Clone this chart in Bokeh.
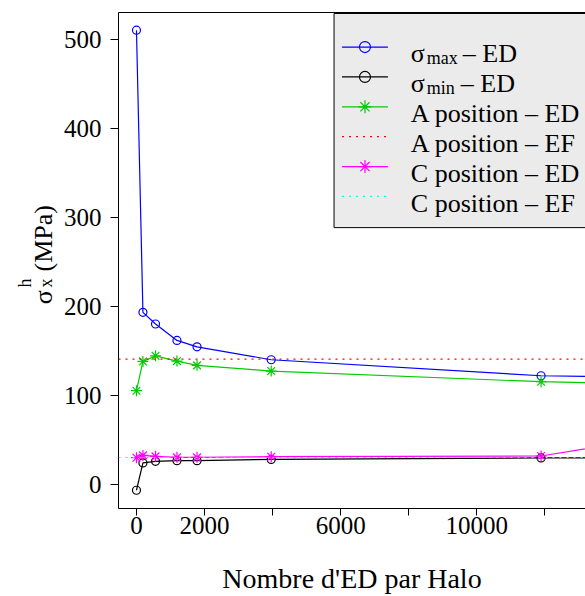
import math
from bokeh.plotting import figure
from bokeh.layouts import row
from bokeh.models import Range1d, LinearAxis, FixedTicker, Label, Span
from bokeh.core.properties import value
from bokeh.embed import file_html
from bokeh.resources import INLINE

# ---------------- data ----------------
n_ed = [0, 190, 560, 1190, 1780, 3960, 11890, 13500]
sigma_max_ed = [510.7, 193.6, 180.5, 162.0, 154.8, 140.3, 122.3, 121.3]
sigma_min_ed = [-6.4, 24.3, 26.1, 26.9, 26.9, 28.3, 29.9, 29.9]
a_pos_ed = [105.5, 138.4, 144.7, 138.8, 134.0, 127.6, 115.6, 114.2]
c_pos_ed = [30.2, 32.8, 31.7, 30.6, 30.6, 31.3, 32.1, 42.2]
a_pos_ef = 141.0
c_pos_ef = 30.4

x_ticks = [0, 2000, 4000, 6000, 8000, 10000, 12000]
x_tick_labels = ["0", "2000", "", "6000", "", "10000", ""]
y_ticks = [0, 100, 200, 300, 400, 500]
y_tick_labels = ["0", "100", "200", "300", "400", "500"]
x_title = "Nombre d'ED par Halo"
y_title_parts = ["σ", "h", "x", "(MPa)"]
legend_names = ["– ED", "– ED", "A position – ED", "A position – EF", "C position – ED", "C position – EF"]

# ---------------- styles ----------------
FONT = "Liberation Serif"
BLUE, BLACK, GREEN, RED, MAGENTA, CYAN = "#0000ff", "#000000", "#00cd00", "#ff0000", "#ff00ff", "#00ffff"
DOT = "2 5"
LW = 1.2

# narrow panel holding the composed y-axis title; its frame is aligned with the
# main frame (page y 12..510), so use page pixel coordinates
fy = figure(width=60, height=596, output_backend="svg", toolbar_location=None, title=None,
            x_range=Range1d(0, 60), y_range=Range1d(510, 12),
            x_axis_type=None, y_axis_type=None, min_border=0)
fy.grid.visible = False
fy.outline_line_color = None

def ytxt(text, x, y, size):
    fy.text(x=[x], y=[y], text=[text], angle=math.pi / 2, text_font=value(FONT),
            text_font_size=value(size), text_color="black", text_baseline="alphabetic", text_align="left")

ytxt(y_title_parts[0], 43, 305, "26px")
ytxt(y_title_parts[1], 24, 288, "18px")
ytxt(y_title_parts[2], 45, 288, "18px")
ytxt(y_title_parts[3], 43, 272, "26px")

p = figure(width=525, height=596, output_backend="svg", toolbar_location=None,
           x_range=Range1d(-528, 13196), y_range=Range1d(-26.9, 530.6),
           min_border_left=57, min_border_right=0, min_border_top=12, min_border_bottom=86)
p.grid.visible = False
p.outline_line_color = None
p.background_fill_color = "white"

# pixel-space helper ranges (page coordinates) for the legend
p.extra_x_ranges = {"px": Range1d(117, 585)}
p.extra_y_ranges = {"py": Range1d(510, 12)}

# axes
xa = p.xaxis[0]
xa.ticker = FixedTicker(ticks=x_ticks)
xa.major_label_overrides = {t: l for t, l in zip(x_ticks, x_tick_labels)}
ya = p.yaxis[0]
ya.ticker = FixedTicker(ticks=y_ticks)
ya.major_label_overrides = {t: l for t, l in zip(y_ticks, y_tick_labels)}
for ax in (xa, ya):
    ax.axis_line_color = "black"
    ax.axis_line_width = 1
    ax.major_tick_line_color = "black"
    ax.major_tick_out = 8
    ax.major_tick_in = 0
    ax.minor_tick_line_color = None
    ax.major_label_text_font = FONT
    ax.major_label_text_font_size = "25px"
    ax.major_label_text_color = "black"
xa.major_tick_out = 7
xa.major_label_standoff = 1
ya.major_label_standoff = 9
xa.axis_label = x_title
xa.axis_label_text_font = FONT
xa.axis_label_text_font_size = "28px"
xa.axis_label_text_font_style = "normal"
xa.axis_label_text_color = "black"
xa.axis_label_standoff = 26

top = LinearAxis(ticker=FixedTicker(ticks=[]), axis_line_color="black", major_tick_out=0,
                 major_tick_in=0, minor_tick_line_color=None, major_label_text_font_size="0px",
                 major_label_standoff=0)
p.add_layout(top, "above")

# reference lines (EF)
p.add_layout(Span(location=a_pos_ef, dimension="width", line_color=RED, line_dash=DOT, line_width=LW))
p.add_layout(Span(location=c_pos_ef, dimension="width", line_color=CYAN, line_dash=DOT, line_width=LW))

# data series
p.line(n_ed, sigma_max_ed, line_color=BLUE, line_width=LW)
p.scatter(n_ed, sigma_max_ed, marker="circle", size=8, fill_color=None, line_color=BLUE, line_width=LW)
p.line(n_ed, sigma_min_ed, line_color=BLACK, line_width=LW)
p.scatter(n_ed, sigma_min_ed, marker="circle", size=8, fill_color=None, line_color=BLACK, line_width=LW)
p.line(n_ed, a_pos_ed, line_color=GREEN, line_width=LW)
p.scatter(n_ed, a_pos_ed, marker="asterisk", size=11, line_color=GREEN, line_width=LW)
p.line(n_ed, c_pos_ed, line_color=MAGENTA, line_width=LW)
p.scatter(n_ed, c_pos_ed, marker="asterisk", size=11, line_color=MAGENTA, line_width=LW)

# ---------------- legend (pixel space) ----------------
R = dict(x_range_name="px", y_range_name="py")
p.quad(left=333, right=620, top=13, bottom=228, fill_color="#ebebeb", line_color="black", line_width=1, **R)
rows = [46.7 + 30 * i for i in range(6)]
colors = [BLUE, BLACK, GREEN, RED, MAGENTA, CYAN]
markers = ["circle", "circle", "asterisk", None, "asterisk", None]
for i, (yy, c, m) in enumerate(zip(rows, colors, markers)):
    dashed = m is None
    p.segment(x0=341, x1=387, y0=yy, y1=yy, line_color=c, line_width=LW,
              line_dash=DOT if dashed else "solid", **R)
    if m == "circle":
        p.scatter(x=[364], y=[yy], marker="circle", size=11, fill_color=None, line_color=c, line_width=LW, **R)
    elif m == "asterisk":
        p.scatter(x=[364], y=[yy], marker="asterisk", size=13, line_color=c, line_width=LW, **R)

def lab(text, x, y, size):
    p.add_layout(Label(x=x, y=y, text=text, text_font=FONT, text_font_size=size, text_color="black",
                       text_baseline="alphabetic", text_align="left", **R))

# sigma entries with subscripts
lab("σ", 410, rows[0] + 6.6, "26px")
lab("max", 426, rows[0] + 10.8, "18px")
lab(legend_names[0], 462, rows[0] + 6.6, "26px")
lab("σ", 410, rows[1] + 6.6, "26px")
lab("min", 426, rows[1] + 10.8, "18px")
lab(legend_names[1], 460, rows[1] + 6.6, "26px")
for i in range(2, 6):
    lab(legend_names[i], 410, rows[i] + 6.6, "26px")

layout = row(fy, p, spacing=0)
open("out.html", "w").write(file_html(layout, INLINE))
